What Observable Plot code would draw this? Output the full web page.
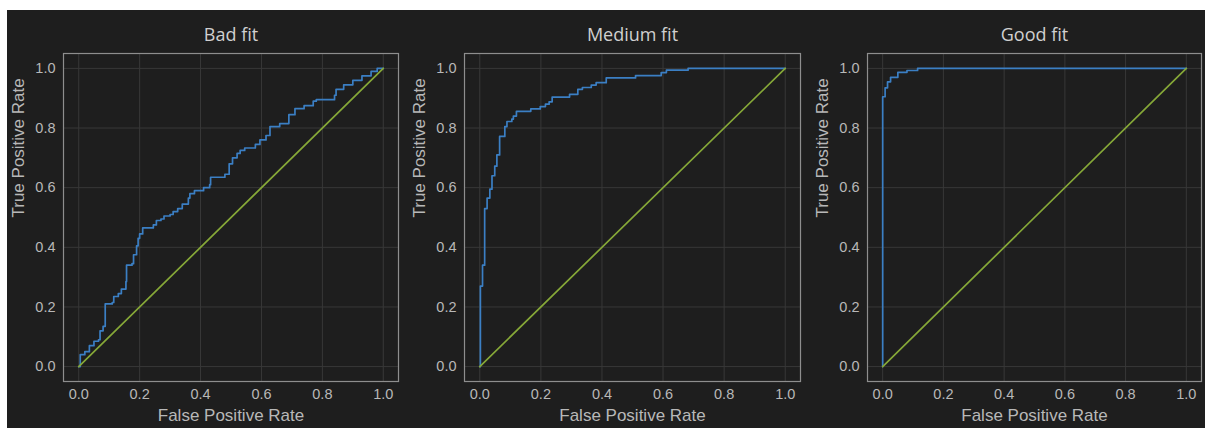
<!DOCTYPE html>
<html>
<head>
<meta charset="utf-8">
<script src="https://cdn.jsdelivr.net/npm/d3@7"></script>
<script src="https://cdn.jsdelivr.net/npm/@observablehq/plot@0.6"></script>
<style>
  html, body { margin: 0; padding: 0; background: #ffffff; }
  #wrap { position: absolute; left: 7px; top: 10px; width: 1198px; height: 418px; background: #1e1e1e; overflow: hidden; }
  .panel { position: absolute; top: 0; }
</style>
</head>
<body>
<div id="wrap"></div>
<script>
// ---- data ----
const titles = ["Bad fit", "Medium fit", "Good fit"];
const xLabel = "False Positive Rate";
const yLabel = "True Positive Rate";
const ticks = [0, 0.2, 0.4, 0.6, 0.8, 1.0];
const tickLabels = ["0.0", "0.2", "0.4", "0.6", "0.8", "1.0"];
const diagonal = [0, 1];

const badFpr = [0, 0.005, 0.02, 0.035, 0.05, 0.065, 0.07, 0.08, 0.087, 0.11, 0.115, 0.13, 0.14, 0.155, 0.157, 0.175, 0.18, 0.19, 0.195, 0.2, 0.21, 0.245, 0.255, 0.27, 0.28, 0.3, 0.31, 0.325, 0.34, 0.36, 0.365, 0.38, 0.41, 0.43, 0.433, 0.48, 0.494, 0.505, 0.52, 0.53, 0.545, 0.58, 0.595, 0.615, 0.628, 0.66, 0.69, 0.71, 0.74, 0.77, 0.78, 0.84, 0.845, 0.87, 0.9, 0.93, 0.96, 0.98, 1];
const badTpr = [0, 0.04, 0.05, 0.07, 0.085, 0.09, 0.12, 0.135, 0.21, 0.215, 0.235, 0.245, 0.26, 0.285, 0.34, 0.345, 0.375, 0.405, 0.43, 0.445, 0.465, 0.475, 0.49, 0.495, 0.505, 0.51, 0.52, 0.53, 0.545, 0.565, 0.58, 0.59, 0.6, 0.61, 0.635, 0.645, 0.68, 0.7, 0.715, 0.725, 0.733, 0.745, 0.76, 0.775, 0.805, 0.815, 0.845, 0.865, 0.875, 0.89, 0.895, 0.91, 0.93, 0.945, 0.96, 0.975, 0.99, 1.0, 1];

const medFpr = [0, 0.002, 0.009, 0.016, 0.024, 0.033, 0.04, 0.049, 0.056, 0.065, 0.082, 0.089, 0.105, 0.11, 0.12, 0.167, 0.198, 0.215, 0.227, 0.237, 0.294, 0.321, 0.336, 0.365, 0.381, 0.414, 0.51, 0.594, 0.611, 0.682, 1];
const medTpr = [0, 0.27, 0.34, 0.53, 0.565, 0.595, 0.64, 0.672, 0.71, 0.772, 0.805, 0.822, 0.83, 0.84, 0.856, 0.864, 0.872, 0.88, 0.888, 0.904, 0.913, 0.93, 0.936, 0.944, 0.952, 0.968, 0.976, 0.986, 0.994, 1.0, 1];

const goodFpr = [0, 0, 0.008, 0.016, 0.026, 0.05, 0.08, 0.115, 1];
const goodTpr = [0, 0.905, 0.935, 0.955, 0.97, 0.987, 0.993, 1.0, 1];

// ---- styling / layout ----
const panels = [
  {title: titles[0], fpr: badFpr, tpr: badTpr, left: 0, width: 395, marginLeft: 56, marginRight: 4},
  {title: titles[1], fpr: medFpr, tpr: medTpr, left: 395, width: 403, marginLeft: 62, marginRight: 5},
  {title: titles[2], fpr: goodFpr, tpr: goodTpr, left: 798, width: 400, marginLeft: 62, marginRight: 4}
];
const blue = "#3b7fc4";
const green = "#86a838";
const fmt = d => tickLabels[ticks.indexOf(d)];

const wrap = document.getElementById("wrap");
for (const p of panels) {
  const pts = p.fpr.map((x, i) => ({x, y: p.tpr[i]}));
  const diag = diagonal.map(v => ({x: v, y: v}));
  const svg = Plot.plot({
    width: p.width,
    height: 418,
    marginTop: 43,
    marginBottom: 47,
    marginLeft: p.marginLeft,
    marginRight: p.marginRight,
    style: {background: "transparent", color: "#b8b8b8", fontFamily: "Liberation Sans, Arial, sans-serif", fontSize: "14px"},
    x: {domain: [-0.05, 1.05]},
    y: {domain: [-0.05, 1.05]},
    marks: [
      Plot.gridX(ticks, {stroke: "#383838", strokeOpacity: 1}),
      Plot.gridY(ticks, {stroke: "#383838", strokeOpacity: 1}),
      Plot.frame({stroke: "#8e8e8e", strokeWidth: 1.2}),
      Plot.axisX({ticks, tickSize: 0, tickPadding: 7, tickFormat: fmt, label: null, fontSize: 14.5, fill: "#b8b8b8"}),
      Plot.axisY({ticks, tickSize: 0, tickPadding: 8, tickFormat: fmt, label: null, fontSize: 14.5, fill: "#b8b8b8"}),
      Plot.line(pts, {x: "x", y: "y", curve: "step-after", stroke: blue, strokeWidth: 1.7}),
      Plot.line(diag, {x: "x", y: "y", stroke: green, strokeWidth: 1.7}),
      Plot.text([p.title], {text: d => d, frameAnchor: "top", dy: -18, lineAnchor: "middle", fontSize: 18, fontFamily: "Open Sans, Lato, sans-serif", fill: "#d0d0d0"}),
      Plot.text([xLabel], {text: d => d, frameAnchor: "bottom", dy: 34, lineAnchor: "middle", fontSize: 17, fill: "#b8b8b8"}),
      Plot.text([yLabel], {text: d => d, frameAnchor: "left", dx: -45, rotate: -90, lineAnchor: "middle", fontSize: 17, fill: "#b8b8b8"})
    ]
  });
  const div = document.createElement("div");
  div.className = "panel";
  div.style.left = p.left + "px";
  div.appendChild(svg);
  wrap.appendChild(div);
}
</script>
</body>
</html>
